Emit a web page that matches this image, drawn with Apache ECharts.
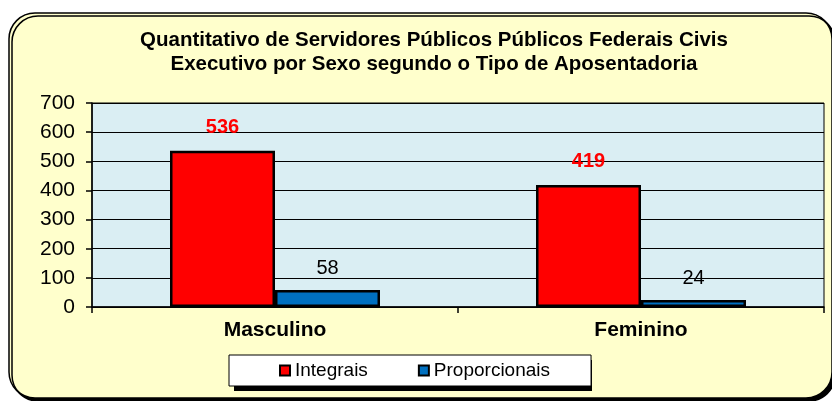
<!DOCTYPE html>
<html>
  <head>
    <meta charset="utf-8" />
    <script src="https://cdn.jsdelivr.net/npm/echarts@6/dist/echarts.min.js"></script>
  </head>
  <body>
    <style>
      html, body { margin: 0; padding: 0; background: #fff; }
      #main { width: 832px; height: 401px; }
    </style>
    <div id="main"></div>
    <script type="text/javascript">
      // dados do gráfico
      var categorias = ['Masculino', 'Feminino'];
      var integrais = [536, 419];
      var proporcionais = [58, 24];
      var ticksY = [0, 100, 200, 300, 400, 500, 600, 700];

      var fonte = '"Liberation Sans", Arial, sans-serif';
      var myChart = echarts.init(document.getElementById('main'));

      var option = {
        backgroundColor: '#ffffff',
        animation: false,
        graphic: [
          {
            type: 'rect',
            z: -10,
            shape: { x: 9, y: 13, width: 823, height: 385, r: 26 },
            style: {
              fill: '#FFFFCC', stroke: '#000', lineWidth: 1.5,
              shadowColor: '#000', shadowOffsetX: 3, shadowOffsetY: 3, shadowBlur: 0
            }
          },
          {
            // sombra da legenda
            type: 'rect',
            z: -5,
            shape: { x: 234, y: 360, width: 358, height: 31 },
            style: { fill: '#000' }
          }
        ],
        title: {
          text: 'Quantitativo de Servidores Públicos Públicos Federais Civis\nExecutivo por Sexo segundo o Tipo de Aposentadoria',
          left: 429,
          textAlign: 'center',
          top: 23,
          textStyle: {
            fontFamily: fonte, fontSize: 20.5, fontWeight: 'bold', color: '#000', lineHeight: 24
          }
        },
        legend: {
          left: 229,
          top: 355,
          padding: [6, 41, 6, 50],
          itemGap: 50,
          itemWidth: 10,
          itemHeight: 10,
          backgroundColor: '#fff',
          borderColor: '#000',
          borderWidth: 1,
          textStyle: { fontFamily: fonte, fontSize: 19, color: '#000' },
          data: [
            { name: 'Integrais', icon: 'rect', itemStyle: { color: '#FF0000', borderColor: '#000', borderWidth: 2 } },
            { name: 'Proporcionais', icon: 'rect', itemStyle: { color: '#0070C0', borderColor: '#000', borderWidth: 2 } }
          ]
        },
        grid: {
          left: 92, right: 8, top: 103, bottom: 94,
          show: true,
          backgroundColor: '#DAEEF3',
          borderColor: '#000',
          borderWidth: 1
        },
        xAxis: {
          type: 'category',
          data: categorias,
          axisLine: { lineStyle: { color: '#000', width: 1.5 } },
          axisTick: { show: true, length: 6, lineStyle: { color: '#000', width: 1.5 } },
          axisLabel: {
            fontFamily: fonte, fontSize: 21, fontWeight: 'bold', color: '#000', margin: 13
          }
        },
        yAxis: {
          type: 'value',
          min: 0,
          max: 700,
          interval: 100,
          axisLine: { show: true, lineStyle: { color: '#000', width: 1.5 } },
          axisTick: { show: true, length: 6, lineStyle: { color: '#000', width: 1.5 } },
          splitLine: { lineStyle: { color: '#000', width: 1 } },
          axisLabel: {
            fontFamily: fonte, fontSize: 21, color: '#000', margin: 17,
            formatter: function (v) { return ticksY.indexOf(v) >= 0 ? String(v) : ''; }
          }
        },
        series: [
          {
            name: 'Integrais',
            type: 'bar',
            data: integrais,
            barWidth: 105,
            barGap: '0%',
            itemStyle: { color: '#FF0000', borderColor: '#000', borderWidth: 2.5 },
            label: {
              show: true, position: 'top', distance: 13,
              fontFamily: fonte, fontSize: 20, fontWeight: 'bold', color: '#FF0000'
            }
          },
          {
            name: 'Proporcionais',
            type: 'bar',
            data: proporcionais,
            barWidth: 105,
            barGap: '0%',
            itemStyle: { color: '#0070C0', borderColor: '#000', borderWidth: 2.5 },
            label: {
              show: true, position: 'top', distance: 12,
              fontFamily: fonte, fontSize: 20, color: '#000'
            }
          }
        ]
      };

      myChart.setOption(option);
    </script>
  </body>
</html>
